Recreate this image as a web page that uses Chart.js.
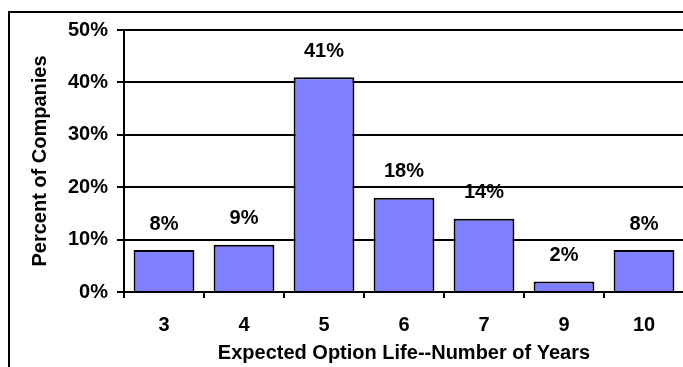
<!DOCTYPE html>
<html>
<head>
<meta charset="utf-8">
<script src="https://cdn.jsdelivr.net/npm/chart.js@4"></script>
<style>
  html, body { margin: 0; padding: 0; background: #fff; }
  #wrap { position: relative; width: 683px; height: 367px; overflow: hidden; background: #fff; }
  #frame { position: absolute; left: 8px; top: 11px; width: 800px; height: 500px; border: 2px solid #000; box-sizing: border-box; }
  #c { position: absolute; left: 0; top: 0; }
</style>
</head>
<body>
<div id="wrap">
  <div id="frame"></div>
  <canvas id="c" width="720" height="400"></canvas>
</div>
<script>
const categories = ['3', '4', '5', '6', '7', '9', '10'];
const percentValues = [8, 9, 41, 18, 14, 2, 8];
const yTickValues = [0, 10, 20, 30, 40, 50];
const xTitle = 'Expected Option Life--Number of Years';
const yTitle = 'Percent of Companies';

const FONT = '"Liberation Sans", Arial, sans-serif';
const FSIZE = 20;

const labelsPlugin = {
  id: 'barLabels',
  afterDatasetsDraw(chart) {
    const ctx = chart.ctx;
    const meta = chart.getDatasetMeta(0);
    ctx.save();
    ctx.font = 'bold ' + FSIZE + 'px ' + FONT;
    ctx.fillStyle = '#000';
    ctx.textAlign = 'center';
    ctx.textBaseline = 'middle';
    meta.data.forEach((bar, i) => {
      ctx.fillText(percentValues[i] + '%', bar.x, bar.y - 26);
    });
    ctx.restore();
  }
};

new Chart(document.getElementById('c'), {
  type: 'bar',
  data: {
    labels: categories,
    datasets: [{
      data: percentValues,
      backgroundColor: '#8080FF',
      borderColor: '#000',
      borderWidth: 2,
      barPercentage: 0.76,
      categoryPercentage: 1.0
    }]
  },
  options: {
    responsive: false,
    animation: false,
    devicePixelRatio: 1,
    layout: { padding: { left: 0, top: 30, right: 36, bottom: 0 } },
    plugins: { legend: { display: false }, tooltip: { enabled: false } },
    scales: {
      x: {
        grid: { display: true, drawOnChartArea: false, color: '#000', lineWidth: 2, tickLength: 6, offset: true },
        border: { display: true, color: '#000', width: 2 },
        ticks: { color: '#000', font: { family: FONT, size: FSIZE, weight: 'bold' }, padding: 15 },
        title: { display: true, text: xTitle, color: '#000',
                 font: { family: FONT, size: FSIZE, weight: 'bold' }, padding: { top: 0, bottom: 35 } },
        afterFit(scale) { scale.height = 108; }
      },
      y: {
        min: 0, max: 50,
        afterBuildTicks(scale) { scale.ticks = yTickValues.map(v => ({ value: v })); },
        grid: { color: '#000', lineWidth: 2, tickLength: 7 },
        border: { display: true, color: '#000', width: 2 },
        ticks: { color: '#000', font: { family: FONT, size: FSIZE, weight: 'bold' }, padding: 9,
                 callback: v => v + '%' },
        title: { display: true, text: yTitle, color: '#000',
                 font: { family: FONT, size: FSIZE, weight: 'bold' }, padding: { top: 28, bottom: 0 } },
        afterFit(scale) { scale.width = 124; }
      }
    }
  },
  plugins: [labelsPlugin]
});
</script>
</body>
</html>
